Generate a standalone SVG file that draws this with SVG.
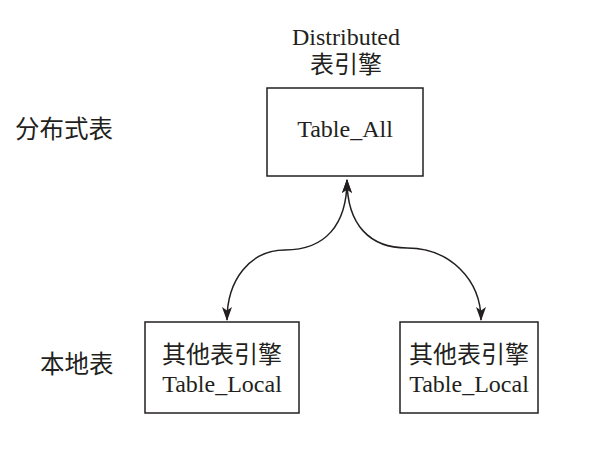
<svg xmlns="http://www.w3.org/2000/svg" width="604" height="461" viewBox="0 0 604 461">
<style>
.box{fill:#fff;stroke:#231f20;stroke-width:1.5}
.t{font-family:"Liberation Serif","Noto Sans CJK SC",serif;font-size:24px;fill:#231f20;text-anchor:middle}
.l{font-family:"Liberation Serif","Noto Sans CJK SC",serif;font-size:24.5px;fill:#231f20}
.c{fill:none;stroke:#231f20;stroke-width:1.5}
</style>
<defs>
<marker id="ah" viewBox="0 0 14 10" refX="13" refY="5" markerWidth="14" markerHeight="10" markerUnits="userSpaceOnUse" orient="auto-start-reverse">
<path d="M0,0 L14,5 L0,10 L3.5,5 Z" fill="#231f20"/>
</marker>
</defs>
<rect width="604" height="461" fill="#fff"/>
<g id="labels">
<text class="l" x="15" y="138">分布式表</text>
<text class="l" x="40" y="373">本地表</text>
</g>
<g id="node-all">
<text class="t" x="346" y="45">Distributed</text>
<text class="t" x="346" y="73">表引擎</text>
<rect class="box" x="267" y="88" width="156" height="88"/>
<text class="t" x="345" y="137">Table_All</text>
</g>
<g id="node-local1">
<rect class="box" x="145" y="322" width="154" height="91"/>
<text class="t" x="222" y="363">其他表引擎</text>
<text class="t" x="222" y="392">Table_Local</text>
</g>
<g id="node-local2">
<rect class="box" x="400" y="322" width="138" height="91"/>
<text class="t" x="469" y="363">其他表引擎</text>
<text class="t" x="469" y="392">Table_Local</text>
</g>
<g id="connectors">
<path class="c" d="M347,180 C347,225 325,250 285,250 C250,250 227,280 227,320" marker-start="url(#ah)" marker-end="url(#ah)"/>
<path class="c" d="M347,180 C347,225 370,248 407,248 C450,248 481,280 481,320" marker-start="url(#ah)" marker-end="url(#ah)"/>
</g>
</svg>
